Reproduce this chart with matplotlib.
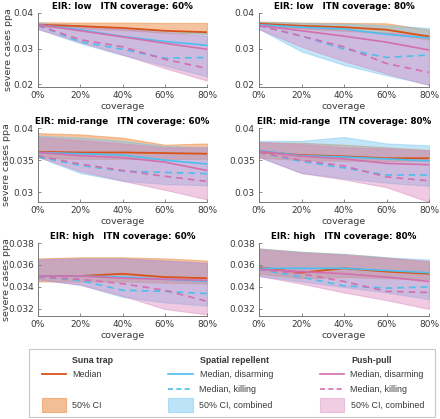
import matplotlib
matplotlib.use("Agg")
import matplotlib.pyplot as plt
import numpy as np

coverage = [0, 20, 40, 60, 80]
xticklabels = ["0%", "20%", "40%", "60%", "80%"]

titles = ["EIR: low   ITN coverage: 60%", "EIR: low   ITN coverage: 80%",
          "EIR: mid-range   ITN coverage: 60%", "EIR: mid-range   ITN coverage: 80%",
          "EIR: high   ITN coverage: 60%", "EIR: high   ITN coverage: 80%"]

# ---- EIR low, ITN 60%
low60_suna_med = [0.0367, 0.0363, 0.0358, 0.0350, 0.0346]
low60_suna_lo = [0.0362, 0.0357, 0.0352, 0.0345, 0.0341]
low60_suna_hi = [0.0374, 0.0373, 0.0373, 0.0372, 0.0372]
low60_sr_dis = [0.0367, 0.0353, 0.0334, 0.0320, 0.0309]
low60_sr_kill = [0.0365, 0.0319, 0.0298, 0.0273, 0.0275]
low60_sr_lo = [0.0355, 0.0315, 0.0282, 0.0252, 0.0222]
low60_sr_hi = [0.0372, 0.0366, 0.0358, 0.0351, 0.0345]
low60_pp_dis = [0.0367, 0.0350, 0.0333, 0.0315, 0.0298]
low60_pp_kill = [0.0365, 0.0325, 0.0305, 0.0270, 0.0244]
low60_pp_lo = [0.0355, 0.0318, 0.0283, 0.0245, 0.0210]
low60_pp_hi = [0.0370, 0.0365, 0.0356, 0.0345, 0.0336]

# ---- EIR low, ITN 80%
low80_suna_med = [0.0370, 0.0364, 0.0360, 0.0353, 0.0334]
low80_suna_lo = [0.0363, 0.0356, 0.0350, 0.0343, 0.0325]
low80_suna_hi = [0.0376, 0.0373, 0.0372, 0.0371, 0.0353]
low80_sr_dis = [0.0367, 0.0360, 0.0355, 0.0340, 0.0330]
low80_sr_kill = [0.0365, 0.0335, 0.0299, 0.0275, 0.0282]
low80_sr_lo = [0.0355, 0.0292, 0.0254, 0.0225, 0.0199]
low80_sr_hi = [0.0375, 0.0372, 0.0370, 0.0365, 0.0358]
low80_pp_dis = [0.0365, 0.0350, 0.0335, 0.0318, 0.0296]
low80_pp_kill = [0.0365, 0.0335, 0.0305, 0.0258, 0.0233]
low80_pp_lo = [0.0355, 0.0305, 0.0265, 0.0230, 0.0197]
low80_pp_hi = [0.0372, 0.0362, 0.0352, 0.0345, 0.0338]

# ---- EIR mid-range, ITN 60%
mid60_suna_med = [0.0363, 0.0362, 0.0362, 0.0361, 0.0360]
mid60_suna_lo = [0.0354, 0.0352, 0.0352, 0.0352, 0.0352]
mid60_suna_hi = [0.0392, 0.0390, 0.0385, 0.0374, 0.0376]
mid60_sr_dis = [0.0362, 0.0360, 0.0358, 0.0350, 0.0344]
mid60_sr_kill = [0.0355, 0.0342, 0.0333, 0.0331, 0.0329]
mid60_sr_lo = [0.0355, 0.0330, 0.0318, 0.0313, 0.0311]
mid60_sr_hi = [0.0388, 0.0385, 0.0380, 0.0372, 0.0370]
mid60_pp_dis = [0.0362, 0.0357, 0.0354, 0.0347, 0.0334]
mid60_pp_kill = [0.0357, 0.0344, 0.0334, 0.0325, 0.0317]
mid60_pp_lo = [0.0355, 0.0333, 0.0318, 0.0304, 0.0289]
mid60_pp_hi = [0.0386, 0.0381, 0.0376, 0.0370, 0.0370]

# ---- EIR mid-range, ITN 80%
mid80_suna_med = [0.0363, 0.0358, 0.0356, 0.0353, 0.0353]
mid80_suna_lo = [0.0354, 0.0350, 0.0349, 0.0349, 0.0349]
mid80_suna_hi = [0.0378, 0.0377, 0.0374, 0.0370, 0.0366]
mid80_sr_dis = [0.0365, 0.0357, 0.0355, 0.0352, 0.0349]
mid80_sr_kill = [0.0362, 0.0348, 0.0338, 0.0327, 0.0327]
mid80_sr_lo = [0.0355, 0.0330, 0.0322, 0.0315, 0.0310]
mid80_sr_hi = [0.0380, 0.0380, 0.0386, 0.0376, 0.0373]
mid80_pp_dis = [0.0364, 0.0356, 0.0352, 0.0345, 0.0343]
mid80_pp_kill = [0.0362, 0.0350, 0.0341, 0.0324, 0.0318]
mid80_pp_lo = [0.0355, 0.0330, 0.0320, 0.0308, 0.0285]
mid80_pp_hi = [0.0378, 0.0375, 0.0370, 0.0368, 0.0365]

# ---- EIR high, ITN 60%
high60_suna_med = [0.0350, 0.0350, 0.0352, 0.0349, 0.0348]
high60_suna_lo = [0.0345, 0.0345, 0.0345, 0.0344, 0.0343]
high60_suna_hi = [0.0366, 0.0367, 0.0367, 0.0366, 0.0364]
high60_sr_dis = [0.0350, 0.0350, 0.0349, 0.0347, 0.0345]
high60_sr_kill = [0.0349, 0.0346, 0.0337, 0.0336, 0.0334]
high60_sr_lo = [0.0347, 0.0342, 0.0331, 0.0326, 0.0323]
high60_sr_hi = [0.0365, 0.0366, 0.0366, 0.0364, 0.0362]
high60_pp_dis = [0.0350, 0.0350, 0.0348, 0.0347, 0.0346]
high60_pp_kill = [0.0349, 0.0347, 0.0343, 0.0337, 0.0327]
high60_pp_lo = [0.0347, 0.0342, 0.0332, 0.0320, 0.0315]
high60_pp_hi = [0.0365, 0.0366, 0.0366, 0.0364, 0.0362]

# ---- EIR high, ITN 80%
high80_suna_med = [0.0358, 0.0353, 0.0357, 0.0354, 0.0352]
high80_suna_lo = [0.0352, 0.0348, 0.0349, 0.0348, 0.0347]
high80_suna_hi = [0.0375, 0.0372, 0.0370, 0.0367, 0.0363]
high80_sr_dis = [0.0357, 0.0357, 0.0357, 0.0355, 0.0353]
high80_sr_kill = [0.0356, 0.0349, 0.0341, 0.0339, 0.0340]
high80_sr_lo = [0.0350, 0.0345, 0.0340, 0.0335, 0.0329]
high80_sr_hi = [0.0375, 0.0372, 0.0370, 0.0367, 0.0365]
high80_pp_dis = [0.0356, 0.0354, 0.0352, 0.0349, 0.0345]
high80_pp_kill = [0.0356, 0.0352, 0.0345, 0.0336, 0.0335]
high80_pp_lo = [0.0350, 0.0343, 0.0335, 0.0328, 0.0320]
high80_pp_hi = [0.0374, 0.0371, 0.0369, 0.0366, 0.0364]

panels = [
    (low60_suna_med, low60_suna_lo, low60_suna_hi, low60_sr_dis, low60_sr_kill, low60_sr_lo, low60_sr_hi,
     low60_pp_dis, low60_pp_kill, low60_pp_lo, low60_pp_hi),
    (low80_suna_med, low80_suna_lo, low80_suna_hi, low80_sr_dis, low80_sr_kill, low80_sr_lo, low80_sr_hi,
     low80_pp_dis, low80_pp_kill, low80_pp_lo, low80_pp_hi),
    (mid60_suna_med, mid60_suna_lo, mid60_suna_hi, mid60_sr_dis, mid60_sr_kill, mid60_sr_lo, mid60_sr_hi,
     mid60_pp_dis, mid60_pp_kill, mid60_pp_lo, mid60_pp_hi),
    (mid80_suna_med, mid80_suna_lo, mid80_suna_hi, mid80_sr_dis, mid80_sr_kill, mid80_sr_lo, mid80_sr_hi,
     mid80_pp_dis, mid80_pp_kill, mid80_pp_lo, mid80_pp_hi),
    (high60_suna_med, high60_suna_lo, high60_suna_hi, high60_sr_dis, high60_sr_kill, high60_sr_lo, high60_sr_hi,
     high60_pp_dis, high60_pp_kill, high60_pp_lo, high60_pp_hi),
    (high80_suna_med, high80_suna_lo, high80_suna_hi, high80_sr_dis, high80_sr_kill, high80_sr_lo, high80_sr_hi,
     high80_pp_dis, high80_pp_kill, high80_pp_lo, high80_pp_hi),
]

row_ylim = [(0.0192, 0.04), (0.0285, 0.04), (0.03136, 0.038)]
row_yticks = [[0.02, 0.03, 0.04], [0.03, 0.035, 0.04], [0.032, 0.034, 0.036, 0.038]]
row_yticklabels = [["0.02", "0.03", "0.04"], ["0.03", "0.035", "0.04"],
                   ["0.032", "0.034", "0.036", "0.038"]]
row_ylabel_x = [12.5, 10.5, 10.5]

ORANGE = "#D95319"
ORANGE_F = "#EC8A3E"
BLUE = "#4DBEEE"
BLUE_F = "#6EC3F0"
PINK = "#D36FAD"
PINK_F = "#DA82BB"
TXT = "#3A3A3A"
AX = "#777777"

W, H = 440, 419
fig = plt.figure(figsize=(W / 100, H / 100), dpi=100)
plt.rcParams['font.family'] = ['DejaVu Sans']

col_x = [(38, 207), (259, 429)]
row_y = [(13, 87), (128, 202), (243, 316)]

for i, data in enumerate(panels):
    r, c = divmod(i, 2)
    x0, x1 = col_x[c]
    yt, yb = row_y[r]
    ax = fig.add_axes([x0 / W, 1 - yb / H, (x1 - x0) / W, (yb - yt) / H])
    (s_med, s_lo, s_hi, r_dis, r_kill, r_lo, r_hi, p_dis, p_kill, p_lo, p_hi) = data
    ax.fill_between(coverage, s_lo, s_hi, color=ORANGE_F, alpha=0.5, lw=0.8, edgecolor=ORANGE_F)
    ax.fill_between(coverage, r_lo, r_hi, color=BLUE_F, alpha=0.42, lw=0.8, edgecolor=BLUE_F)
    ax.fill_between(coverage, p_lo, p_hi, color=PINK_F, alpha=0.42, lw=0.8, edgecolor=PINK_F)
    ax.plot(coverage, s_med, color=ORANGE, lw=1.3)
    ax.plot(coverage, r_dis, color=BLUE, lw=1.2)
    ax.plot(coverage, p_dis, color=PINK, lw=1.2)
    ax.plot(coverage, r_kill, color=BLUE, lw=1.2, ls=(0, (4, 3)))
    ax.plot(coverage, p_kill, color=PINK, lw=1.2, ls=(0, (4, 3)))
    ax.set_xlim(0, 80)
    ax.set_ylim(*row_ylim[r])
    ax.set_xticks(coverage)
    ax.set_xticklabels(xticklabels)
    ax.set_yticks(row_yticks[r])
    ax.set_yticklabels(row_yticklabels[r])
    for sp in ["top", "right"]:
        ax.spines[sp].set_visible(False)
    for sp in ["left", "bottom"]:
        ax.spines[sp].set_color(AX)
        ax.spines[sp].set_linewidth(0.7)
    ax.tick_params(direction="in", length=2.5, width=0.6, color=AX, labelcolor=TXT,
                   labelsize=6.5, pad=3)
    ax.set_xlabel("coverage", fontsize=6.8, color=TXT, labelpad=1.5)
    if c == 0:
        ax.set_ylabel("severe cases ppa", fontsize=6.8, color=TXT)
        ax.yaxis.set_label_coords((row_ylabel_x[r] - x0) / (x1 - x0), 0.5)
    ax.set_title(titles[i], fontsize=6.3, fontweight="bold", color="black", pad=3)

# Legend box
lax = fig.add_axes([0, 0, 1, 1], facecolor="none")
lax.set_xlim(0, W)
lax.set_ylim(H, 0)
lax.axis("off")
lax.add_patch(plt.Rectangle((29, 349), 406, 68, facecolor="white", edgecolor="#C8C8C8", lw=0.8))
lfont = dict(family=["Liberation Sans", "DejaVu Sans"], fontsize=6.4, color=TXT, va="center", ha="left")
heads = [(72, "Suna trap"), (200, "Spatial repellent"), (351, "Push-pull")]
for x, t in heads:
    lax.text(x, 360, t, fontweight="bold", **lfont)
# Suna
lax.plot([42, 66], [374, 374], color=ORANGE, lw=1.3)
lax.text(72, 374, "Median", **lfont)
lax.add_patch(plt.Rectangle((42, 398), 24, 14, facecolor=ORANGE_F, alpha=0.55, edgecolor=ORANGE_F, lw=0.8))
lax.text(72, 405, "50% CI", **lfont)
# SR
lax.plot([168, 193], [374, 374], color=BLUE, lw=1.2)
lax.text(200, 374, "Median, disarming", **lfont)
lax.plot([168, 193], [389, 389], color=BLUE, lw=1.2, ls=(0, (3, 2)))
lax.text(199, 389, "Median, killing", **lfont)
lax.add_patch(plt.Rectangle((168, 398), 25, 14, facecolor=BLUE_F, alpha=0.45, edgecolor=BLUE_F, lw=0.8))
lax.text(199, 405, "50% CI, combined", **lfont)
# PP
lax.plot([320, 344], [374, 374], color=PINK, lw=1.2)
lax.text(350, 374, "Median, disarming", **lfont)
lax.plot([320, 344], [389, 389], color=PINK, lw=1.2, ls=(0, (3, 2)))
lax.text(350, 389, "Median, killing", **lfont)
lax.add_patch(plt.Rectangle((320, 398), 24, 14, facecolor=PINK_F, alpha=0.4, edgecolor=PINK_F, lw=0.8))
lax.text(351, 405, "50% CI, combined", **lfont)

fig.savefig("out.png", dpi=100)
